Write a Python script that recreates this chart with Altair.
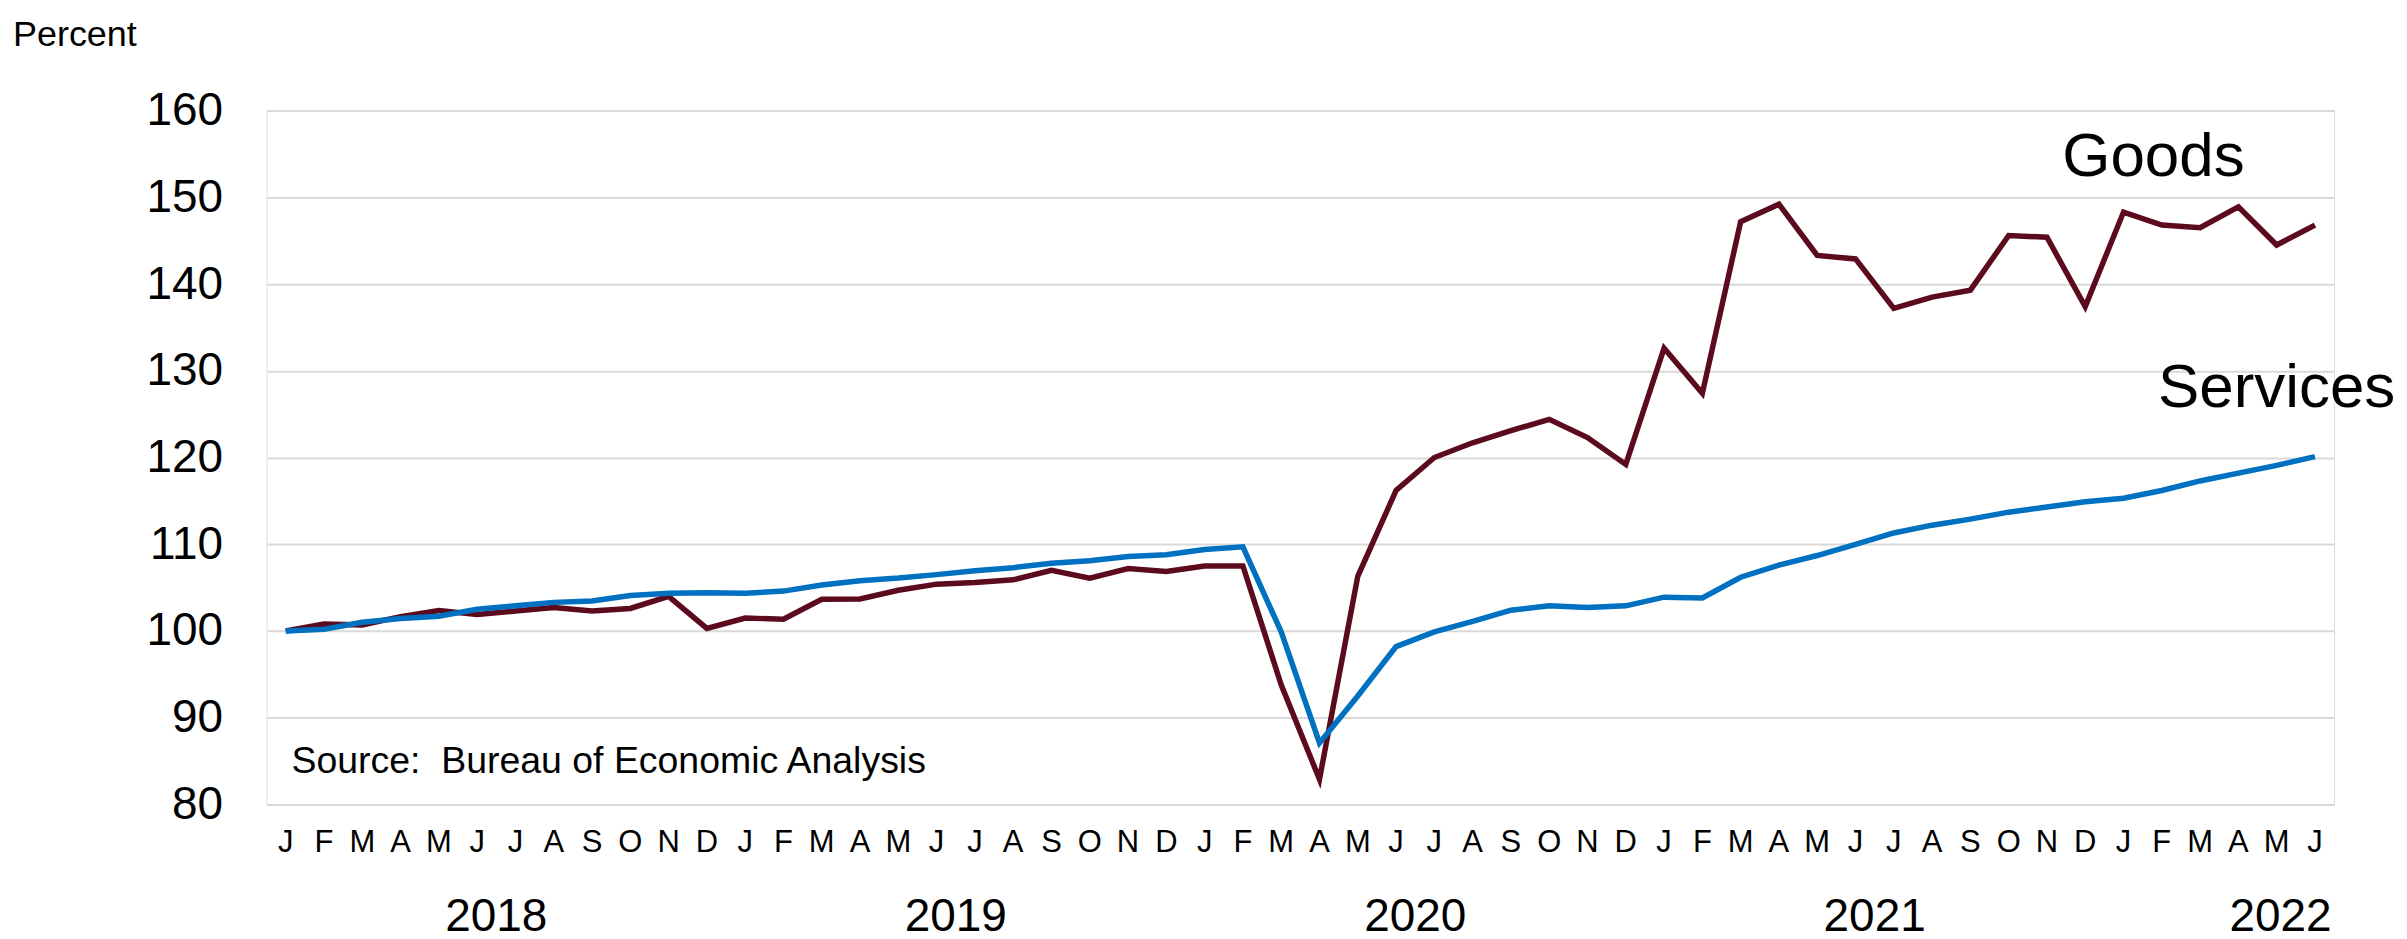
import altair as alt
import pandas as pd

# ---- data (index, Jan 2018 = 100) ----
years = [2018, 2019, 2020, 2021, 2022]
month_letters = ["J", "F", "M", "A", "M", "J", "J", "A", "S", "O", "N", "D"]

goods = [
    100.0, 100.8, 100.7, 101.65, 102.35, 101.9, 102.3, 102.7, 102.3, 102.6, 104.0, 100.3,
    101.5, 101.35, 103.65, 103.7, 104.7, 105.4, 105.6, 105.9, 107.0, 106.1, 107.2, 106.85,
    107.5, 107.5, 93.8, 82.9, 106.3, 116.2, 120.0, 121.7, 123.1, 124.4, 122.3, 119.2,
    132.6, 127.4, 147.2, 149.2, 143.3, 142.9, 137.2, 138.5, 139.3, 145.6, 145.4, 137.4,
    148.3, 146.8, 146.5, 148.9, 144.5, 146.8,
]
services = [
    100.0, 100.2, 101.0, 101.45, 101.7, 102.5, 102.9, 103.3, 103.45, 104.1, 104.35, 104.4,
    104.35, 104.6, 105.3, 105.8, 106.1, 106.5, 106.95, 107.3, 107.8, 108.1, 108.6, 108.8,
    109.4, 109.7, 99.9, 87.1, 92.5, 98.2, 99.9, 101.1, 102.4, 102.9, 102.7, 102.9,
    103.9, 103.8, 106.2, 107.6, 108.7, 110.0, 111.3, 112.2, 112.9, 113.7, 114.3, 114.9,
    115.3, 116.2, 117.3, 118.2, 119.1, 120.1,
]
series_names = ["Goods", "Services"]
series_colors = ["#5C0A1E", "#0070C0"]

y_ticks = [80, 90, 100, 110, 120, 130, 140, 150, 160]

n = len(goods)
month_labels = [month_letters[i % 12] for i in range(n)]
idx = list(range(n))

year_label_pos = [5.5, 17.5, 29.5, 41.5, 52.1]

source_text = "Source:\u00a0 Bureau of Economic Analysis"

# ---- tables ----
df = pd.DataFrame({
    "t": idx * 2,
    "value": goods + services,
    "series": [series_names[0]] * n + [series_names[1]] * n,
})
months_df = pd.DataFrame({"t": idx, "m": month_labels})
labels_df = pd.DataFrame({"t": [46.4, 48.9], "value": [154.6, 128.0], "label": series_names})
years_df = pd.DataFrame({"t": year_label_pos, "year": [str(y) for y in years]})
source_df = pd.DataFrame({"t": [0.15], "value": [84.9], "label": [source_text]})

FONT = "Liberation Sans"

xscale = alt.Scale(domain=[-0.5, n - 0.5], nice=False, zero=False)
yscale = alt.Scale(domain=[80, 160], nice=False, zero=False)

x_enc = alt.X("t:Q", scale=xscale, title=None, axis=None)
y_enc = alt.Y(
    "value:Q", scale=yscale, title=None,
    axis=alt.Axis(values=y_ticks, ticks=False, domain=False, grid=True, gridColor="#D9D9D9",
                  gridWidth=2, labelFontSize=46, labelFont=FONT, labelColor="black",
                  labelPadding=44),
)

lines = alt.Chart(df).mark_line(strokeWidth=5.5, strokeJoin="miter").encode(
    x=x_enc,
    y=y_enc,
    color=alt.Color("series:N", scale=alt.Scale(domain=series_names, range=series_colors), legend=None),
    detail="series:N",
)

month_text = alt.Chart(months_df).mark_text(
    align="center", baseline="middle", fontSize=31, font=FONT, color="black"
).encode(x=alt.X("t:Q", scale=xscale), y=alt.value(734), text="m:N")

series_text = alt.Chart(labels_df).mark_text(
    align="left", baseline="middle", fontSize=62, font=FONT, color="black"
).encode(x=alt.X("t:Q", scale=xscale), y=alt.Y("value:Q", scale=yscale), text="label:N")

year_text = alt.Chart(years_df).mark_text(
    align="center", baseline="middle", fontSize=46, font=FONT, color="black"
).encode(x=alt.X("t:Q", scale=xscale), y=alt.value(808), text="year:N")

src_text = alt.Chart(source_df).mark_text(
    align="left", baseline="middle", fontSize=37.5, font=FONT, color="black"
).encode(x=alt.X("t:Q", scale=xscale), y=alt.Y("value:Q", scale=yscale), text="label:N")

percent_text = alt.Chart(pd.DataFrame({"label": ["Percent"]})).mark_text(
    align="left", baseline="middle", fontSize=36, font=FONT, color="black"
).encode(x=alt.value(-254), y=alt.value(-76), text="label:N")

chart = alt.layer(lines, month_text, series_text, year_text, src_text, percent_text).properties(
    width=2071,
    height=695,
    autosize=alt.AutoSizeParams(type="none"),
    padding={"left": 259, "top": 102, "right": 65, "bottom": 140},
).configure_view(stroke=None).configure(background="white")

chart.save("out.html", embed_options={"renderer": "svg", "actions": False})
